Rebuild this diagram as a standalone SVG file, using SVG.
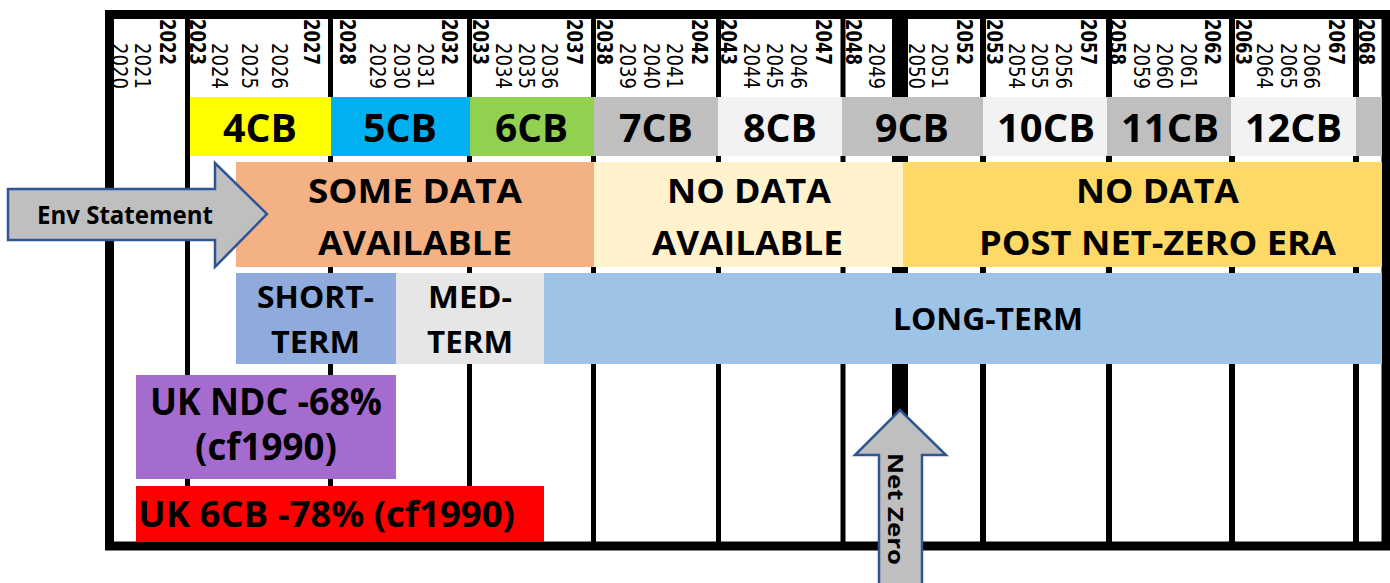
<svg xmlns="http://www.w3.org/2000/svg" width="1390" height="583" viewBox="0 0 1390 583">
<style>
.yr{font-family:"DejaVu Sans Condensed","DejaVu Sans",sans-serif;font-size:22px;fill:#000}
.yb{font-family:"DejaVu Sans Condensed","DejaVu Sans",sans-serif;font-size:22px;font-weight:700;fill:#000}
.lbl{font-family:"Open Sans",Lato,sans-serif;font-weight:700;fill:#000;text-anchor:middle}
.grid{stroke:#000;fill:none}
.barrow{fill:#BFBFBF;stroke:#2F5597;stroke-width:2.5;stroke-linejoin:miter}
</style>
<rect x="0" y="0" width="1390" height="583" fill="#fff"/>
<g id="grid" class="grid">
<rect x="109.5" y="14.5" width="1276.5" height="531.5" stroke-width="9"/>
<g stroke-width="5">
<line x1="187.5" y1="19" x2="187.5" y2="542"/>
<line x1="330.5" y1="19" x2="330.5" y2="542"/>
<line x1="469.5" y1="19" x2="469.5" y2="542"/>
<line x1="593.5" y1="19" x2="593.5" y2="542"/>
<line x1="718.5" y1="19" x2="718.5" y2="542"/>
<line x1="843" y1="19" x2="843" y2="542"/>
</g>
<g stroke-width="6">
<line x1="983" y1="19" x2="983" y2="542"/>
<line x1="1109" y1="19" x2="1109" y2="542"/>
<line x1="1232" y1="19" x2="1232" y2="542"/>
<line x1="1356" y1="19" x2="1356" y2="542"/>
</g>
<line x1="900" y1="19" x2="900" y2="542" stroke-width="16"/>
</g>
<g id="years">
<text class="yr" transform="translate(120,43) rotate(90)" y="8" textLength="46" lengthAdjust="spacingAndGlyphs">2020</text>
<text class="yr" transform="translate(142.5,43) rotate(90)" y="8" textLength="46" lengthAdjust="spacingAndGlyphs">2021</text>
<text class="yb" transform="translate(167.5,19) rotate(90)" y="8" textLength="46" lengthAdjust="spacingAndGlyphs">2022</text>
<text class="yb" transform="translate(198,19) rotate(90)" y="8" textLength="46" lengthAdjust="spacingAndGlyphs">2023</text>
<text class="yr" transform="translate(220,43) rotate(90)" y="8" textLength="46" lengthAdjust="spacingAndGlyphs">2024</text>
<text class="yr" transform="translate(250,43) rotate(90)" y="8" textLength="46" lengthAdjust="spacingAndGlyphs">2025</text>
<text class="yr" transform="translate(280,43) rotate(90)" y="8" textLength="46" lengthAdjust="spacingAndGlyphs">2026</text>
<text class="yb" transform="translate(311.5,19) rotate(90)" y="8" textLength="46" lengthAdjust="spacingAndGlyphs">2027</text>
<text class="yb" transform="translate(347.5,19) rotate(90)" y="8" textLength="46" lengthAdjust="spacingAndGlyphs">2028</text>
<text class="yr" transform="translate(377.5,43) rotate(90)" y="8" textLength="46" lengthAdjust="spacingAndGlyphs">2029</text>
<text class="yr" transform="translate(401.5,43) rotate(90)" y="8" textLength="46" lengthAdjust="spacingAndGlyphs">2030</text>
<text class="yr" transform="translate(426,43) rotate(90)" y="8" textLength="46" lengthAdjust="spacingAndGlyphs">2031</text>
<text class="yb" transform="translate(450,19) rotate(90)" y="8" textLength="46" lengthAdjust="spacingAndGlyphs">2032</text>
<text class="yb" transform="translate(481,19) rotate(90)" y="8" textLength="46" lengthAdjust="spacingAndGlyphs">2033</text>
<text class="yr" transform="translate(503.5,43) rotate(90)" y="8" textLength="46" lengthAdjust="spacingAndGlyphs">2034</text>
<text class="yr" transform="translate(526.5,43) rotate(90)" y="8" textLength="46" lengthAdjust="spacingAndGlyphs">2035</text>
<text class="yr" transform="translate(550,43) rotate(90)" y="8" textLength="46" lengthAdjust="spacingAndGlyphs">2036</text>
<text class="yb" transform="translate(575,19) rotate(90)" y="8" textLength="46" lengthAdjust="spacingAndGlyphs">2037</text>
<text class="yb" transform="translate(605,19) rotate(90)" y="8" textLength="46" lengthAdjust="spacingAndGlyphs">2038</text>
<text class="yr" transform="translate(628,43) rotate(90)" y="8" textLength="46" lengthAdjust="spacingAndGlyphs">2039</text>
<text class="yr" transform="translate(651.5,43) rotate(90)" y="8" textLength="46" lengthAdjust="spacingAndGlyphs">2040</text>
<text class="yr" transform="translate(675,43) rotate(90)" y="8" textLength="46" lengthAdjust="spacingAndGlyphs">2041</text>
<text class="yb" transform="translate(700,19) rotate(90)" y="8" textLength="46" lengthAdjust="spacingAndGlyphs">2042</text>
<text class="yb" transform="translate(729,19) rotate(90)" y="8" textLength="46" lengthAdjust="spacingAndGlyphs">2043</text>
<text class="yr" transform="translate(751.5,43) rotate(90)" y="8" textLength="46" lengthAdjust="spacingAndGlyphs">2044</text>
<text class="yr" transform="translate(775,43) rotate(90)" y="8" textLength="46" lengthAdjust="spacingAndGlyphs">2045</text>
<text class="yr" transform="translate(798.5,43) rotate(90)" y="8" textLength="46" lengthAdjust="spacingAndGlyphs">2046</text>
<text class="yb" transform="translate(823.5,19) rotate(90)" y="8" textLength="46" lengthAdjust="spacingAndGlyphs">2047</text>
<text class="yb" transform="translate(854,19) rotate(90)" y="8" textLength="46" lengthAdjust="spacingAndGlyphs">2048</text>
<text class="yr" transform="translate(876.5,43) rotate(90)" y="8" textLength="46" lengthAdjust="spacingAndGlyphs">2049</text>
<text class="yr" transform="translate(916.5,43) rotate(90)" y="8" textLength="46" lengthAdjust="spacingAndGlyphs">2050</text>
<text class="yr" transform="translate(940,43) rotate(90)" y="8" textLength="46" lengthAdjust="spacingAndGlyphs">2051</text>
<text class="yb" transform="translate(965,19) rotate(90)" y="8" textLength="46" lengthAdjust="spacingAndGlyphs">2052</text>
<text class="yb" transform="translate(995,19) rotate(90)" y="8" textLength="46" lengthAdjust="spacingAndGlyphs">2053</text>
<text class="yr" transform="translate(1016.5,43) rotate(90)" y="8" textLength="46" lengthAdjust="spacingAndGlyphs">2054</text>
<text class="yr" transform="translate(1040,43) rotate(90)" y="8" textLength="46" lengthAdjust="spacingAndGlyphs">2055</text>
<text class="yr" transform="translate(1063.5,43) rotate(90)" y="8" textLength="46" lengthAdjust="spacingAndGlyphs">2056</text>
<text class="yb" transform="translate(1088.5,19) rotate(90)" y="8" textLength="46" lengthAdjust="spacingAndGlyphs">2057</text>
<text class="yb" transform="translate(1118,19) rotate(90)" y="8" textLength="46" lengthAdjust="spacingAndGlyphs">2058</text>
<text class="yr" transform="translate(1141.5,43) rotate(90)" y="8" textLength="46" lengthAdjust="spacingAndGlyphs">2059</text>
<text class="yr" transform="translate(1165,43) rotate(90)" y="8" textLength="46" lengthAdjust="spacingAndGlyphs">2060</text>
<text class="yr" transform="translate(1188.5,43) rotate(90)" y="8" textLength="46" lengthAdjust="spacingAndGlyphs">2061</text>
<text class="yb" transform="translate(1212.5,19) rotate(90)" y="8" textLength="46" lengthAdjust="spacingAndGlyphs">2062</text>
<text class="yb" transform="translate(1243.5,19) rotate(90)" y="8" textLength="46" lengthAdjust="spacingAndGlyphs">2063</text>
<text class="yr" transform="translate(1265,43) rotate(90)" y="8" textLength="46" lengthAdjust="spacingAndGlyphs">2064</text>
<text class="yr" transform="translate(1288.5,43) rotate(90)" y="8" textLength="46" lengthAdjust="spacingAndGlyphs">2065</text>
<text class="yr" transform="translate(1311.5,43) rotate(90)" y="8" textLength="46" lengthAdjust="spacingAndGlyphs">2066</text>
<text class="yb" transform="translate(1336.5,19) rotate(90)" y="8" textLength="46" lengthAdjust="spacingAndGlyphs">2067</text>
<text class="yb" transform="translate(1367,19) rotate(90)" y="8" textLength="46" lengthAdjust="spacingAndGlyphs">2068</text>
</g>
<g id="cb4"><rect x="190" y="97" width="141" height="59" fill="#FFFF00"/><text class="lbl" x="260" y="142" font-size="39" textLength="74" lengthAdjust="spacingAndGlyphs">4CB</text></g>
<g id="cb5"><rect x="331" y="97" width="139" height="59" fill="#00B0F0"/><text class="lbl" x="400" y="142" font-size="39" textLength="74" lengthAdjust="spacingAndGlyphs">5CB</text></g>
<g id="cb6"><rect x="470" y="97" width="124" height="59" fill="#92D050"/><text class="lbl" x="531.5" y="142" font-size="39" textLength="73" lengthAdjust="spacingAndGlyphs">6CB</text></g>
<g id="cb7"><rect x="594" y="97" width="124" height="59" fill="#BFBFBF"/><text class="lbl" x="656" y="142" font-size="39" textLength="74" lengthAdjust="spacingAndGlyphs">7CB</text></g>
<g id="cb8"><rect x="718" y="97" width="124" height="59" fill="#F2F2F2"/><text class="lbl" x="780" y="142" font-size="39" textLength="74" lengthAdjust="spacingAndGlyphs">8CB</text></g>
<g id="cb9"><rect x="842" y="97" width="141" height="59" fill="#BFBFBF"/><text class="lbl" x="912" y="142" font-size="39" textLength="74" lengthAdjust="spacingAndGlyphs">9CB</text></g>
<g id="cb10"><rect x="983" y="97" width="124" height="59" fill="#F2F2F2"/><text class="lbl" x="1046" y="142" font-size="39" textLength="98" lengthAdjust="spacingAndGlyphs">10CB</text></g>
<g id="cb11"><rect x="1107" y="97" width="124" height="59" fill="#BFBFBF"/><text class="lbl" x="1170" y="142" font-size="39" textLength="98" lengthAdjust="spacingAndGlyphs">11CB</text></g>
<g id="cb12"><rect x="1231" y="97" width="125" height="59" fill="#F2F2F2"/><text class="lbl" x="1293.5" y="142" font-size="39" textLength="97" lengthAdjust="spacingAndGlyphs">12CB</text></g>
<g id="cb13"><rect x="1356" y="97" width="26" height="59" fill="#BFBFBF"/></g>
<g id="some-data"><rect x="236" y="162" width="358" height="105" fill="#F4B183"/><text class="lbl" x="415" y="203" font-size="33.5" textLength="214" lengthAdjust="spacingAndGlyphs">SOME DATA</text><text class="lbl" x="415" y="255" font-size="33.5" textLength="194" lengthAdjust="spacingAndGlyphs">AVAILABLE</text></g>
<g id="no-data"><rect x="594" y="162" width="309" height="105" fill="#FFF2CC"/><text class="lbl" x="749" y="203" font-size="33.5" textLength="164" lengthAdjust="spacingAndGlyphs">NO DATA</text><text class="lbl" x="747.5" y="255" font-size="33.5" textLength="191" lengthAdjust="spacingAndGlyphs">AVAILABLE</text></g>
<g id="post-net-zero"><rect x="903" y="162" width="479" height="105" fill="#FFD966"/><text class="lbl" x="1157.5" y="203" font-size="33.5" textLength="163" lengthAdjust="spacingAndGlyphs">NO DATA</text><text class="lbl" x="1157.5" y="255" font-size="33.5" textLength="357" lengthAdjust="spacingAndGlyphs">POST NET-ZERO ERA</text></g>
<g id="short-term"><rect x="236" y="273" width="160" height="91" fill="#8FAADC"/><text class="lbl" x="315.5" y="308" font-size="31" textLength="117" lengthAdjust="spacingAndGlyphs">SHORT-</text><text class="lbl" x="315.5" y="353" font-size="31" textLength="89" lengthAdjust="spacingAndGlyphs">TERM</text></g>
<g id="med-term"><rect x="396" y="273" width="148" height="91" fill="#E6E6E6"/><text class="lbl" x="470" y="308" font-size="31" textLength="84" lengthAdjust="spacingAndGlyphs">MED-</text><text class="lbl" x="470" y="353" font-size="31" textLength="86" lengthAdjust="spacingAndGlyphs">TERM</text></g>
<g id="long-term"><rect x="544" y="273" width="838" height="91" fill="#9DC3E6"/><text class="lbl" x="988" y="330" font-size="31" textLength="190" lengthAdjust="spacingAndGlyphs">LONG-TERM</text></g>
<g id="uk-ndc"><rect x="136" y="375" width="260" height="104" fill="#A56CD0"/><text class="lbl" x="266" y="415" font-size="37" textLength="232" lengthAdjust="spacingAndGlyphs">UK NDC -68%</text><text class="lbl" x="266" y="460" font-size="37" textLength="142" lengthAdjust="spacingAndGlyphs">(cf1990)</text></g>
<g id="uk-6cb"><rect x="136" y="486" width="408" height="56" fill="#FF0000"/><text class="lbl" x="138" y="527" font-size="35" style="text-anchor:start" textLength="377" lengthAdjust="spacingAndGlyphs">UK 6CB -78% (cf1990)</text></g>
<g id="env-statement"><path class="barrow" d="M8,189 L215,189 L215,163 L267,214 L215,267 L215,240 L8,240 Z"/><text class="lbl" x="125" y="224" font-size="25" textLength="176" lengthAdjust="spacingAndGlyphs">Env Statement</text></g>
<g id="net-zero"><path class="barrow" d="M879,600 L879,455 L855,455 L900,410 L946,455 L922,455 L922,600 Z"/><text class="lbl" transform="translate(895.5,453) rotate(90)" x="0" y="7.5" font-size="21" style="text-anchor:start" textLength="112" lengthAdjust="spacingAndGlyphs">Net Zero</text></g>
<g id="connectors"></g>
</svg>
